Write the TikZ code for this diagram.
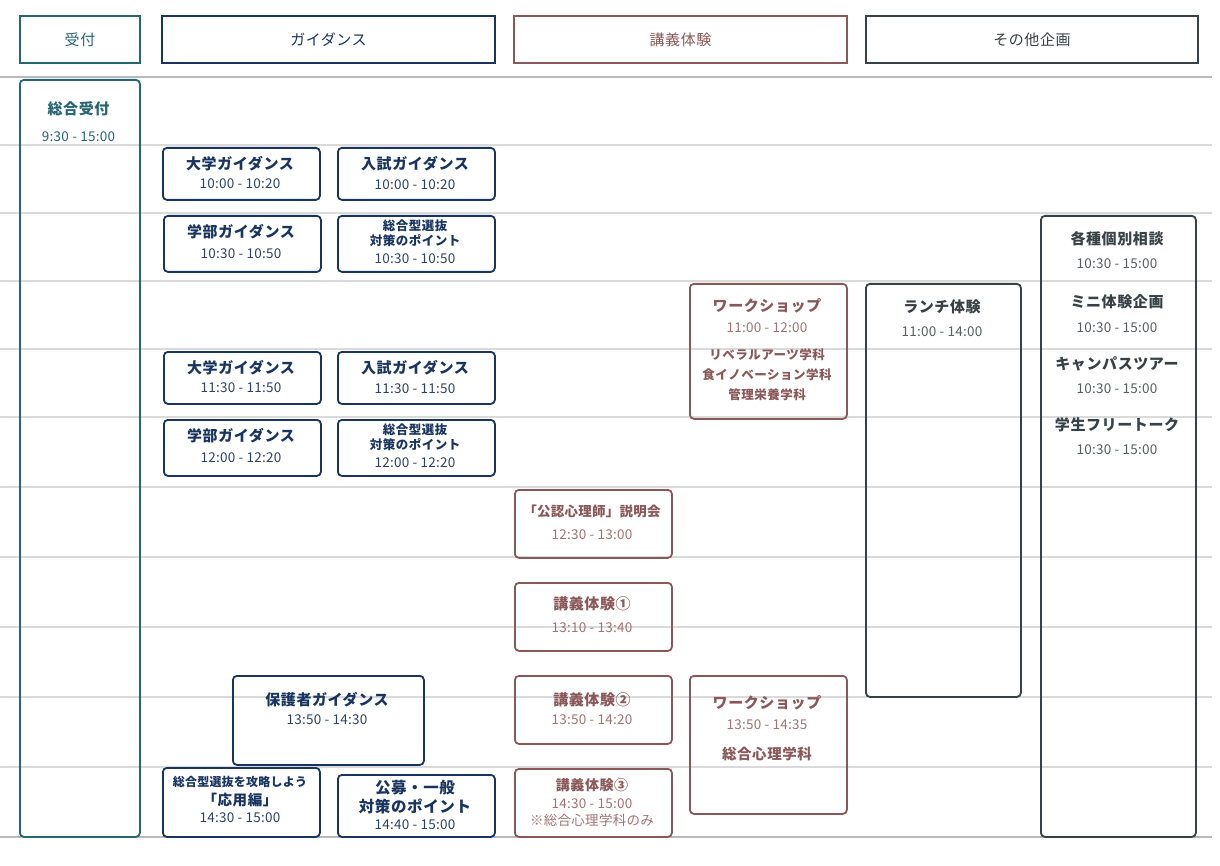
\documentclass[tikz,border=0pt]{standalone}
\usepackage{fontspec}
\setmainfont{Noto Sans CJK JP}
\newfontfamily\jpls[LetterSpace=4]{Noto Sans CJK JP}
\newfontfamily\jptm[LetterSpace=2]{Noto Sans CJK JP}
\definecolor{teal}{RGB}{38,102,116}
\definecolor{navy}{RGB}{24,52,96}
\definecolor{navyt}{RGB}{45,66,100}
\definecolor{brown}{RGB}{138,88,88}
\definecolor{brownt}{RGB}{162,115,115}
\definecolor{dgray}{RGB}{55,65,70}
\definecolor{dgrayt}{RGB}{88,93,98}
\definecolor{gridl}{RGB}{218,218,218}
\definecolor{gridd}{RGB}{185,185,185}
\tikzset{
  hdr/.style={draw, line width=2pt, anchor=north west, inner sep=0pt, font=\jpls\fontsize{15}{17}\selectfont},
  box/.style={draw, rounded corners=4pt, line width=1.8pt, anchor=north west, inner sep=0pt},
  ttl/.style={inner sep=0pt, font=\jpls\fontsize{15}{17}\selectfont\bfseries},
  sml/.style={inner sep=0pt, font=\jpls\fontsize{12.5}{14}\selectfont\bfseries},
  tm/.style={inner sep=0pt, font=\jptm\fontsize{13.5}{15}\selectfont},
}
\begin{document}
\begin{tikzpicture}[x=1pt,y=-1pt]
\useasboundingbox (0,0) rectangle (1220,866);
\fill[white] (0,0) rectangle (1220,866);
% grid
\foreach \yy in {145,213,281,349,417,487,557,627,697,767}
  \draw[gridl, line width=1.5pt] (0,\yy) -- (1212,\yy);
\draw[gridd, line width=2pt] (0,77) -- (1212,77);
\draw[gridd, line width=2pt] (0,837) -- (1212,837);
% headers
\node[hdr, draw=teal, text=teal, minimum width=120pt, minimum height=47pt] (h1) at (19,15) {受付};
\node[hdr, draw=navy, text=navy, minimum width=333pt, minimum height=47pt] (h2) at (161,15) {ガイダンス};
\node[hdr, draw=brown, text=brown, minimum width=333pt, minimum height=47pt] (h3) at (513,15) {講義体験};
\node[hdr, draw=dgray, text=dgray, minimum width=332pt, minimum height=47pt] (h4) at (865,15) {その他企画};
% reception
\node[box, draw=teal, minimum width=120pt, minimum height=757pt] (r1) at (19,79) {};
\node[ttl, text=teal] (r1t) at (78.5,109) {総合受付};
\node[tm, text=teal] (r1m) at (78.5,137) {9:30 - 15:00};
% guidance
\node[box, draw=navy, minimum width=157pt, minimum height=52pt] (g1) at (162,147) {};
\node[ttl, text=navy] (g1t) at (240,164) {大学ガイダンス};
\node[tm, text=navyt] (g1m) at (240,184) {10:00 - 10:20};
\node[box, draw=navy, minimum width=157pt, minimum height=52pt] (g2) at (337,147) {};
\node[ttl, text=navy] (g2t) at (415,164) {入試ガイダンス};
\node[tm, text=navyt] (g2m) at (415,185) {10:00 - 10:20};
\node[box, draw=navy, minimum width=157pt, minimum height=56pt] (g3) at (163,215) {};
\node[ttl, text=navy] (g3t) at (241,232) {学部ガイダンス};
\node[tm, text=navyt] (g3m) at (241,254) {10:30 - 10:50};
\node[box, draw=navy, minimum width=157pt, minimum height=56pt] (g4) at (337,215) {};
\node[sml, text=navy] (g4a) at (415,226) {総合型選抜};
\node[sml, text=navy] (g4b) at (415,241) {対策のポイント};
\node[tm, text=navyt] (g4m) at (415,259) {10:30 - 10:50};
\node[box, draw=navy, minimum width=157pt, minimum height=52pt] (g5) at (163,351) {};
\node[ttl, text=navy] (g5t) at (241,368) {大学ガイダンス};
\node[tm, text=navyt] (g5m) at (241,388) {11:30 - 11:50};
\node[box, draw=navy, minimum width=157pt, minimum height=52pt] (g6) at (337,351) {};
\node[ttl, text=navy] (g6t) at (415,368) {入試ガイダンス};
\node[tm, text=navyt] (g6m) at (415,389) {11:30 - 11:50};
\node[box, draw=navy, minimum width=157pt, minimum height=56pt] (g7) at (163,419) {};
\node[ttl, text=navy] (g7t) at (241,436) {学部ガイダンス};
\node[tm, text=navyt] (g7m) at (241,458) {12:00 - 12:20};
\node[box, draw=navy, minimum width=157pt, minimum height=56pt] (g8) at (337,419) {};
\node[sml, text=navy] (g8a) at (415,430) {総合型選抜};
\node[sml, text=navy] (g8b) at (415,445) {対策のポイント};
\node[tm, text=navyt] (g8m) at (415,463) {12:00 - 12:20};
\node[box, draw=navy, minimum width=191pt, minimum height=89pt] (g9) at (232,675) {};
\node[ttl, text=navy] (g9t) at (327,700) {保護者ガイダンス};
\node[tm, text=navyt] (g9m) at (327,720) {13:50 - 14:30};
\node[box, draw=navy, minimum width=157pt, minimum height=69pt] (g10) at (162,767) {};
\node[inner sep=0pt, font=\jptm\fontsize{12}{14}\selectfont\bfseries, text=navy] (g10a) at (240,782) {総合型選抜を攻略しよう};
\node[inner sep=0pt, font=\jpls\fontsize{14.5}{16}\selectfont\bfseries, text=navy] (g10b) at (240,800) {「応用編」};
\node[tm, text=navyt] (g10m) at (240,818) {14:30 - 15:00};
\node[box, draw=navy, minimum width=157pt, minimum height=62pt] (g11) at (337,774) {};
\node[ttl, font=\jpls\fontsize{15.5}{17}\selectfont\bfseries, text=navy] (g11a) at (415,788) {公募・一般};
\node[ttl, font=\jpls\fontsize{15.5}{17}\selectfont\bfseries, text=navy] (g11b) at (415,806) {対策のポイント};
\node[tm, text=navyt] (g11m) at (415,825) {14:40 - 15:00};
% lectures
\node[box, draw=brown, minimum width=157pt, minimum height=68pt] (l1) at (514,489) {};
\node[inner sep=0pt, font=\jptm\fontsize{13.5}{15}\selectfont\bfseries, text=brown] (l1t) at (592,511) {「公認心理師」説明会};
\node[tm, text=brownt] (l1m) at (592,535) {12:30 - 13:00};
\node[box, draw=brown, minimum width=157pt, minimum height=68pt] (l2) at (514,582) {};
\node[ttl, text=brown] (l2t) at (592,604) {講義体験①};
\node[tm, text=brownt] (l2m) at (592,628) {13:10 - 13:40};
\node[box, draw=brown, minimum width=157pt, minimum height=68pt] (l3) at (514,675) {};
\node[ttl, text=brown] (l3t) at (592,700) {講義体験②};
\node[tm, text=brownt] (l3m) at (592,720) {13:50 - 14:20};
\node[box, draw=brown, minimum width=157pt, minimum height=68pt] (l4) at (514,768) {};
\node[inner sep=0pt, font=\jpls\fontsize{14}{16}\selectfont\bfseries, text=brown] (l4t) at (592,785) {講義体験③};
\node[tm, text=brownt] (l4m) at (592,804) {14:30 - 15:00};
\node[tm, text=brownt] (l4n) at (592,820) {※総合心理学科のみ};
\node[box, draw=brown, minimum width=157pt, minimum height=135pt] (w1) at (689,283) {};
\node[ttl, text=brown] (w1t) at (767,306) {ワークショップ};
\node[tm, text=brownt] (w1m) at (767,328) {11:00 - 12:00};
\node[sml, text=brown] (w1a) at (767,355) {リベラルアーツ学科};
\node[sml, text=brown] (w1b) at (767,375) {食イノベーション学科};
\node[sml, text=brown] (w1c) at (767,395) {管理栄養学科};
\node[box, draw=brown, minimum width=157pt, minimum height=138pt] (w2) at (689,675) {};
\node[ttl, text=brown] (w2t) at (767,703) {ワークショップ};
\node[tm, text=brownt] (w2m) at (767,725) {13:50 - 14:35};
\node[ttl, font=\jpls\fontsize{14.5}{16}\selectfont\bfseries, text=brown] (w2a) at (767,754) {総合心理学科};
% others
\node[box, draw=dgray, minimum width=155pt, minimum height=413pt] (o1) at (865,283) {};
\node[ttl, text=dgray] (o1t) at (942,307) {ランチ体験};
\node[tm, text=dgrayt] (o1m) at (942,332) {11:00 - 14:00};
\node[box, draw=dgray, minimum width=155pt, minimum height=621pt] (o2) at (1040,215) {};
\node[ttl, text=dgray] (o2a) at (1117,239) {各種個別相談};
\node[tm, text=dgrayt] (o2am) at (1117,264) {10:30 - 15:00};
\node[ttl, text=dgray] (o2b) at (1117,302) {ミニ体験企画};
\node[tm, text=dgrayt] (o2bm) at (1117,328) {10:30 - 15:00};
\node[ttl, text=dgray] (o2c) at (1117,364) {キャンパスツアー};
\node[tm, text=dgrayt] (o2cm) at (1117,389) {10:30 - 15:00};
\node[ttl, text=dgray] (o2d) at (1117,425) {学生フリートーク};
\node[tm, text=dgrayt] (o2dm) at (1117,450) {10:30 - 15:00};
\end{tikzpicture}
\end{document}
